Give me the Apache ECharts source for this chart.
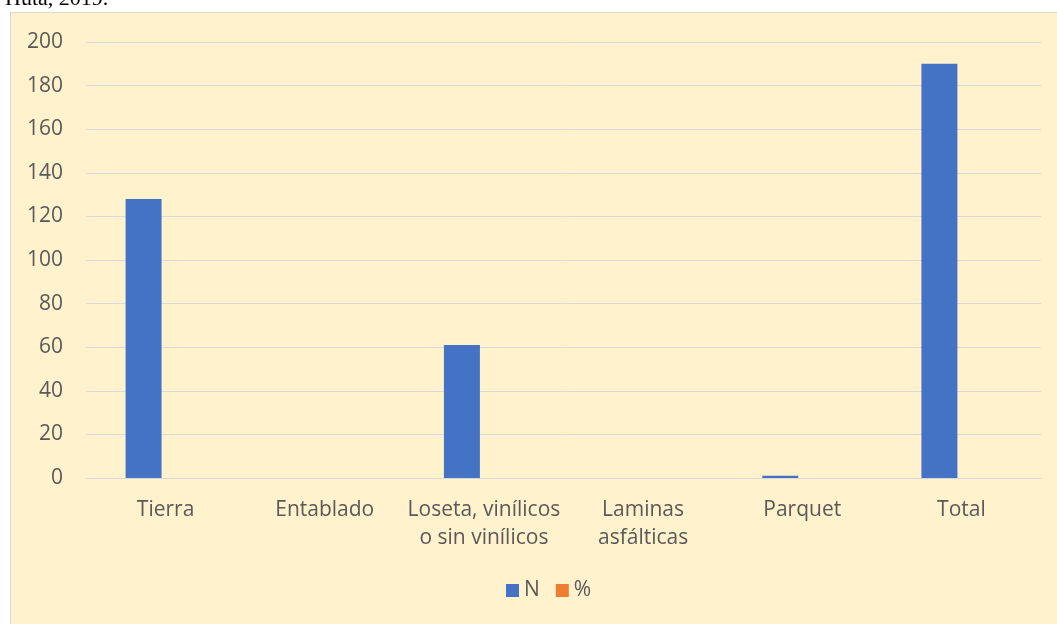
<!DOCTYPE html>
<html>
<head>
<meta charset="utf-8">
<script src="https://cdn.jsdelivr.net/npm/echarts@6/dist/echarts.min.js"></script>
<style>
  html, body { margin: 0; padding: 0; background: #ffffff; overflow: hidden; }
  #panel {
    position: absolute; left: 10px; top: 12px; width: 1100px; height: 700px;
    background: #FFF2CC; border: 1px solid #D9D9D9; box-sizing: border-box;
  }
  #figureWrapper { position: absolute; left: 0; top: 0; width: 1057px; height: 624px; }
</style>
</head>
<body>
<div id="panel"></div>
<div id="figureWrapper"></div>
<script>
const categories = ['Tierra', 'Entablado', 'Loseta, vinílicos\no sin vinílicos', 'Laminas\nasfálticas', 'Parquet', 'Total'];
const n_values = [128, 0, 61, 0, 1, 190];
const pct_values = [0, 0, 0, 0, 0, 0];
const y_ticks = [0, 20, 40, 60, 80, 100, 120, 140, 160, 180, 200];

const text_color = '#595959';
const font = '"Open Sans", sans-serif';

let myChart = echarts.init(document.getElementById('figureWrapper'), null, { renderer: 'canvas' });

let option = {
  animation: false,
  backgroundColor: 'transparent',
  title: {
    text: 'Huta, 2019.',
    left: 0,
    top: -17,
    textStyle: {
      fontFamily: '"Liberation Serif", serif',
      fontSize: 22,
      fontWeight: 'normal',
      color: '#000000'
    }
  },
  grid: {
    left: 86,
    right: 16,
    top: 42,
    bottom: 146
  },
  xAxis: {
    type: 'category',
    data: categories,
    axisLine: { lineStyle: { color: '#D9D9D9', width: 1 } },
    axisTick: { show: false },
    axisLabel: {
      color: text_color,
      fontFamily: font,
      fontSize: 21,
      lineHeight: 28,
      margin: 18,
      interval: 0
    }
  },
  yAxis: {
    type: 'value',
    min: y_ticks[0],
    max: y_ticks[y_ticks.length - 1],
    interval: 20,
    axisLine: { show: false },
    axisTick: { show: false },
    splitLine: { lineStyle: { color: '#D9D9D9', width: 1 } },
    axisLabel: {
      color: text_color,
      fontFamily: font,
      fontSize: 21,
      margin: 23
    }
  },
  legend: {
    bottom: 18,
    left: 501,
    itemWidth: 13,
    itemHeight: 13,
    itemGap: 16,
    icon: 'rect',
    textStyle: {
      color: text_color,
      fontFamily: font,
      fontSize: 21
    },
    data: ['N', '%']
  },
  series: [
    {
      name: 'N',
      type: 'bar',
      data: n_values,
      barWidth: 36,
      barGap: '0%',
      itemStyle: { color: '#4472C4' }
    },
    {
      name: '%',
      type: 'bar',
      data: pct_values,
      barWidth: 44,
      itemStyle: { color: '#ED7D31' }
    }
  ]
};

myChart.setOption(option);

window.addEventListener('resize', function() {
  myChart.resize();
});
</script>
</body>
</html>
